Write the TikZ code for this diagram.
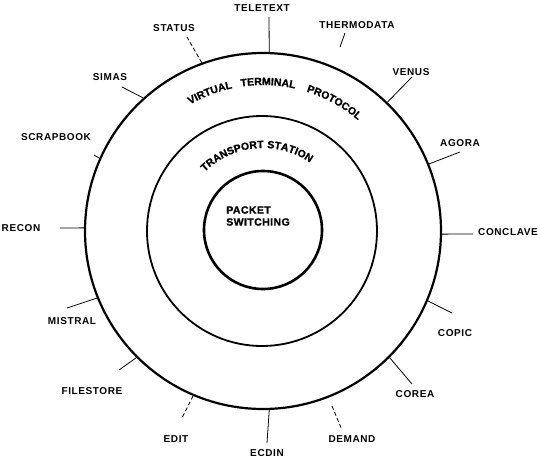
\documentclass[tikz,border=0pt]{standalone}
\usepackage{fontspec}
\newfontfamily\lblfont{Liberation Sans}[LetterSpace=6]
\newfontfamily\heavyfont{Liberation Sans Bold}[LetterSpace=4, FakeBold=1.2]
\newcommand{\ringfont}{\lblfont\bfseries\fontsize{10}{12}\selectfont}
\newcommand{\layerfont}{\heavyfont\fontsize{10.5}{12}\selectfont}
\usetikzlibrary{decorations.text}

\begin{document}
\begin{tikzpicture}[x=1pt, y=1pt, ring/.style = {circle, draw, fill=none, inner sep=0pt}, tag/.style = {font=\ringfont, inner sep=1pt}, every edge/.append style={line width=0.8pt}, gap/.style={dash pattern=on 4pt off 2.5pt}, bend text/.style={font=\layerfont, decorate, decoration={text along path, text align=center, text={|\layerfont|#1}}}]
\useasboundingbox (-263,-229) rectangle (277,231);

% the three layers
\node[ring, line width=2.2pt, minimum size=356pt] (vtp) at (0,0) {};
\node[ring, line width=1.8pt, minimum size=230pt] (ts) at (-1,0) {};
\node[ring, line width=2.6pt, minimum size=118pt] (psw) at (0,1) {};
\node[font=\layerfont, inner sep=1pt, align=left] (pstext) at (-5,15) {PACKET\\SWITCHING};

\path[bend text=VIRTUAL] (132:146) arc[start angle=132, end angle=90, radius=146];
\path[bend text=TERMINAL] (109:146) arc[start angle=109, end angle=67, radius=146];
\path[bend text=PROTOCOL] (82:146) arc[start angle=82, end angle=40, radius=146];
\path[bend text=TRANSPORT STATION] (140:83) arc[start angle=140, end angle=50, radius=83];

% services round the ring
\node[tag] (teletext) at (-1,223) {TELETEXT};
\node[tag] (thermodata) at (94,206) {THERMODATA};
\node[tag] (venus) at (148,159) {VENUS};
\node[tag] (agora) at (197,88) {AGORA};
\node[tag] (conclave) at (245,-1) {CONCLAVE};
\node[tag] (copic) at (192,-102) {COPIC};
\node[tag] (corea) at (152,-163) {COREA};
\node[tag] (demand) at (89,-208) {DEMAND};
\node[tag] (ecdin) at (4,-222) {ECDIN};
\node[tag] (edit) at (-87,-208) {EDIT};
\node[tag] (filestore) at (-171,-160) {FILESTORE};
\node[tag] (mistral) at (-191,-90) {MISTRAL};
\node[tag] (recon) at (-242,3) {RECON};
\node[tag] (scrapbook) at (-207,94) {SCRAPBOOK};
\node[tag] (simas) at (-153,154) {SIMAS};
\node[tag] (status) at (-89,203) {STATUS};

\coordinate (teletext-t) at (6,214);
\coordinate (thermodata-s) at (77,184);
\coordinate (thermodata-t) at (82,198);
\coordinate (venus-t) at (149,154);
\coordinate (agora-t) at (197,79);
\coordinate (conclave-t) at (210,-3);
\coordinate (copic-t) at (189,-82);
\coordinate (corea-t) at (149,-153);
\coordinate (demand-s) at (69,-175);
\coordinate (demand-t) at (79,-199);
\coordinate (ecdin-t) at (4,-212);
\coordinate (edit-t) at (-81,-187);
\coordinate (filestore-t) at (-144,-139);
\coordinate (mistral-t) at (-196,-77);
\coordinate (recon-t) at (-203,3);
\coordinate (scrapbook-t) at (-169,76);
\coordinate (simas-t) at (-141,144);
\coordinate (status-t) at (-76,194);

\path
 (vtp.88.7) edge (teletext-t)
 (thermodata-s) edge (thermodata-t)
 (vtp.46.3) edge (venus-t)
 (vtp.22.3) edge (agora-t)
 (vtp.-1) edge (conclave-t)
 (vtp.-23.7) edge (copic-t)
 (vtp.-45.7) edge (corea-t)
 (demand-s) edge[gap] (demand-t)
 (vtp.-88.7) edge (ecdin-t)
 (vtp.-113.2) edge[gap] (edit-t)
 (vtp.-135.4) edge (filestore-t)
 (vtp.-158.6) edge (mistral-t)
 (vtp.179) edge (recon-t)
 (vtp.156.5) edge (scrapbook-t)
 (vtp.132.5) edge (simas-t)
 (vtp.110) edge[gap] (status-t);
\end{tikzpicture}
\end{document}
